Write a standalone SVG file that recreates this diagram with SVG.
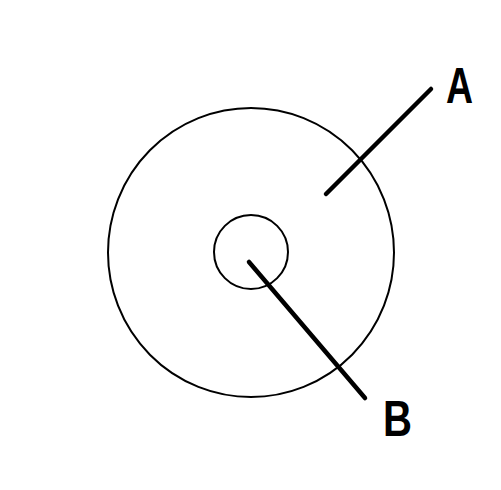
<svg xmlns="http://www.w3.org/2000/svg" width="501" height="490" viewBox="0 0 501 490">
<style>
.ring{fill:none;stroke:#000;stroke-width:2}
.lead{stroke:#000;stroke-width:4.5;stroke-linecap:round;fill:none}
.lbl{font-family:"Liberation Sans",Arial,sans-serif;font-weight:bold;font-size:50px;fill:#000}
</style>
<rect width="501" height="490" fill="#fff"/>
<g id="outer-circle"><ellipse class="ring" cx="251" cy="252.5" rx="143" ry="144.5"/></g>
<g id="inner-circle"><circle class="ring" cx="251" cy="252" r="37"/></g>
<g id="connectors">
<line class="lead" x1="326" y1="194" x2="431" y2="89"/>
<line class="lead" x1="249" y1="262" x2="365" y2="398"/>
</g>
<g id="label-A"><text class="lbl" x="446" y="103" textLength="27" lengthAdjust="spacingAndGlyphs">A</text></g>
<g id="label-B"><text class="lbl" x="383" y="436" textLength="29" lengthAdjust="spacingAndGlyphs">B</text></g>
</svg>
